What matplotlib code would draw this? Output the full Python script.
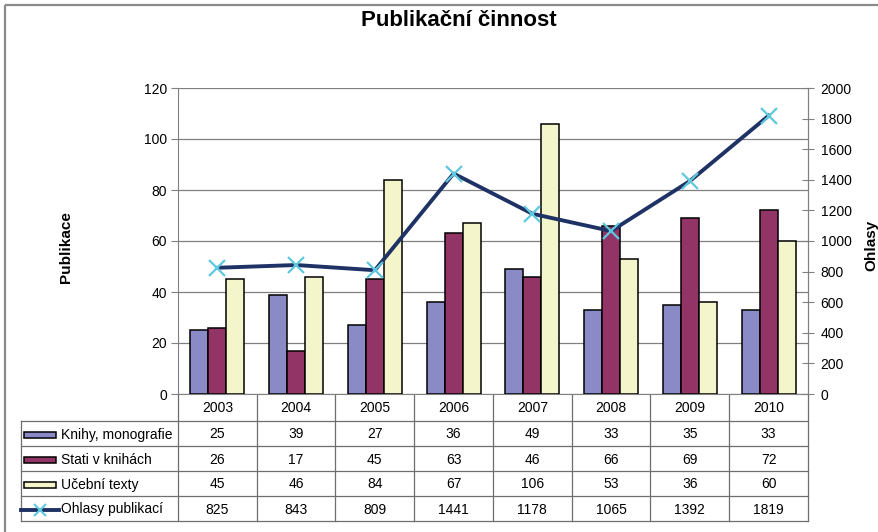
import numpy as np
import matplotlib
matplotlib.use('Agg')
import matplotlib.pyplot as plt
from matplotlib.patches import Rectangle

# DATA ----------------------------------------------------------
years = ['2003', '2004', '2005', '2006', '2007', '2008', '2009', '2010']
knihy = [25, 39, 27, 36, 49, 33, 35, 33]
stati = [26, 17, 45, 63, 46, 66, 69, 72]
ucebni = [45, 46, 84, 67, 106, 53, 36, 60]
ohlasy = [825, 843, 809, 1441, 1178, 1065, 1392, 1819]

bar_names = ['Knihy, monografie', 'Stati v knihách', 'Učební texty']
line_name = 'Ohlasy publikací'

bar_colors = ['#8a8ac6', '#933466', '#f5f5cb']
line_color = '#1f3265'
marker_color = '#5ec8de'

# FIGURE -------------------------------------------------------
plt.rcParams['font.family'] = ['Liberation Sans', 'DejaVu Sans']
plt.rcParams['font.size'] = 10

W, H = 879, 532
fig = plt.figure(figsize=(W / 100, H / 100), dpi=100)


def box(x0, y0, x1, y1):
    # pixel box (top-left origin) -> figure fraction
    return [x0 / W, 1 - y1 / H, (x1 - x0) / W, (y1 - y0) / H]


PX0, PY0, PX1, PY1 = 178, 88, 808, 394
ax = fig.add_axes(box(PX0, PY0, PX1, PY1))
ax2 = ax.twinx()

n = len(years)
x = np.arange(n)
bw = 0.228
for i, (vals, col) in enumerate(zip([knihy, stati, ucebni], bar_colors)):
    ax.bar(x + (i - 1) * bw, vals, bw, color=col, edgecolor='black',
           linewidth=1.1, zorder=3)

ax.set_xlim(-0.5, n - 0.5)
ax.set_ylim(0, 120)
ax.set_yticks(range(0, 121, 20))
ax.set_xticks([])
ax.set_axisbelow(True)
ax.grid(axis='y', color='#808080', linewidth=0.9)
ax.tick_params(axis='y', direction='out', length=5, color='#808080', pad=3,
               labelsize=10)
ax.spines['top'].set_visible(False)
for s in ['left', 'right', 'bottom']:
    ax.spines[s].set_color('#808080')

ax2.plot(x, ohlasy, color=line_color, linewidth=2.8, marker='x',
         markersize=11, markeredgewidth=1.6, markeredgecolor=marker_color,
         zorder=5)
ax2.set_ylim(0, 2000)
ax2.set_yticks(range(0, 2001, 200))
ax2.tick_params(axis='y', direction='inout', length=8, color='#808080', pad=5,
                labelsize=10)
ax2.spines['top'].set_visible(False)
ax2.spines['right'].set_color('#808080')
ax2.spines['left'].set_visible(False)
ax2.spines['bottom'].set_visible(False)

fig.text(459 / W, 1 - 21 / H, 'Publikační činnost', ha='center',
         va='center', fontsize=16, fontweight='bold')
fig.text(66 / W, 1 - 247 / H, 'Publikace', rotation=90, ha='center',
         va='center', fontsize=11, fontweight='bold')
fig.text(871 / W, 1 - 245 / H, 'Ohlasy', rotation=90, ha='center',
         va='center', fontsize=11, fontweight='bold')

# DATA TABLE ---------------------------------------------------
tb = fig.add_axes([0, 0, 1, 1], zorder=-1)
tb.set_xlim(0, W)
tb.set_ylim(H, 0)
tb.axis('off')

# chart area border
tb.add_patch(Rectangle((5, 5), W + 10, H + 10, fill=False,
                       edgecolor='#8a8a8a', linewidth=1.6))

col_w = (PX1 - PX0) / n
TX0 = 21
row_y = [394, 421, 446, 471, 496, 521]
lc = '#6e6e6e'
lw = 0.9

# header row: vertical separators under the axis
for i in range(n + 1):
    xe = PX0 + i * col_w
    tb.plot([xe, xe], [row_y[0], row_y[-1]], color=lc, lw=lw)
tb.plot([TX0, TX0], [row_y[1], row_y[-1]], color=lc, lw=lw)
for yy in row_y[1:]:
    tb.plot([TX0, PX1], [yy, yy], color=lc, lw=lw)

for i, yr in enumerate(years):
    tb.text(PX0 + (i + 0.5) * col_w, (row_y[0] + row_y[1]) / 2 + 1, yr,
            ha='center', va='center', fontsize=10)

rows = [knihy, stati, ucebni, ohlasy]
names = bar_names + [line_name]
for r, (name, vals) in enumerate(zip(names, rows)):
    yc = (row_y[r + 1] + row_y[r + 2]) / 2 + 1
    for i, v in enumerate(vals):
        tb.text(PX0 + (i + 0.5) * col_w, yc, str(v), ha='center',
                va='center', fontsize=10)
    tb.text(61, yc, name, ha='left', va='center', fontsize=10)
    if r < 3:
        tb.add_patch(Rectangle((24, yc - 3), 32, 6, facecolor=bar_colors[r],
                               edgecolor='black', linewidth=1.1))
    else:
        tb.plot([21, 59], [yc, yc], color=line_color, lw=2.8)
        tb.plot([40], [yc], marker='x', markersize=8, markeredgewidth=1.5,
                color=marker_color)

fig.savefig('out.png', dpi=100)
